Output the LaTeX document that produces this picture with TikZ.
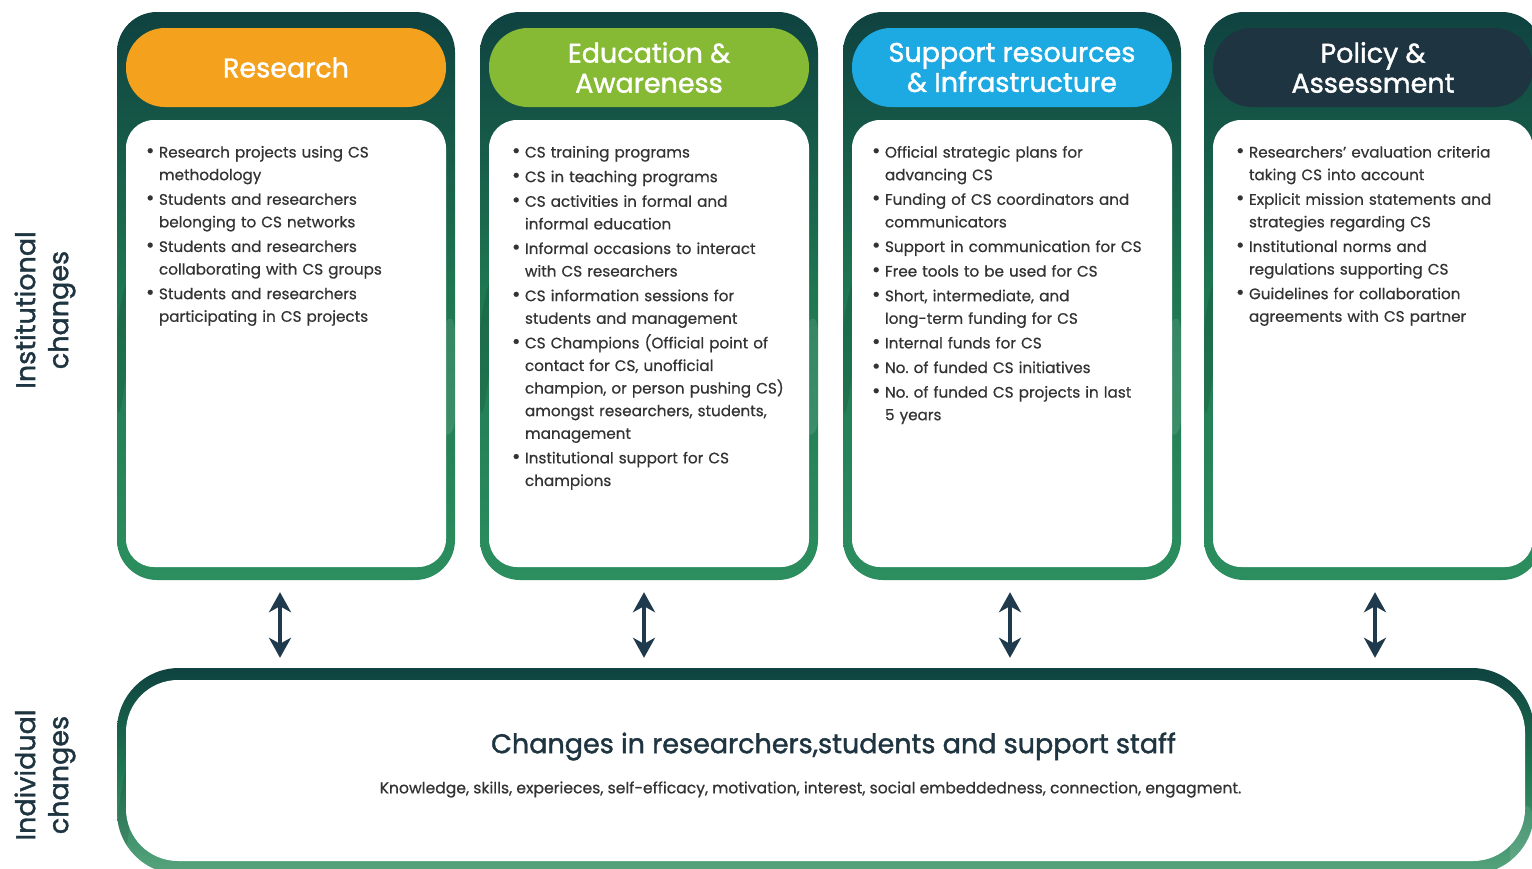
\documentclass[tikz,border=0pt]{standalone}
\usepackage{fontspec}
\setmainfont{Poppins}
\newfontfamily\bodyfont{Poppins}[FakeBold=0.6]
\newfontfamily\headfont{Poppins}[FakeBold=1.4]
\usetikzlibrary{arrows.meta,positioning}
\definecolor{resorange}{HTML}{F4A11D}
\definecolor{edugreen}{HTML}{86B934}
\definecolor{supblue}{HTML}{1DA9E1}
\definecolor{poldark}{HTML}{1E3440}
\definecolor{navy}{HTML}{1F3A4C}
\definecolor{bodytext}{HTML}{333333}
\definecolor{frametop}{HTML}{0F4240}
\definecolor{framemid}{HTML}{1F7752}
\definecolor{framebot}{HTML}{2C8E5E}
\newcommand{\itm}[1]{\hangindent=13pt\hangafter=1\noindent\makebox[13pt][l]{\scalebox{1.35}{\textbullet}}#1\par}

\begin{document}
\begin{tikzpicture}[x=1pt, y=-1pt,
	frame/.style={rounded corners=40pt, minimum width=338pt, minimum height=568pt, inner sep=0pt,
		top color=frametop, bottom color=framebot, middle color=framemid,
		path picture={
			\fill[white, opacity=0.08] (path picture bounding box.north west) -- ++(0,-140) -- ++(120,140) -- cycle;
			\fill[black, opacity=0.14] (path picture bounding box.north east) -- ++(-150,0) -- ++(150,-80) -- cycle;
			\fill[white, opacity=0.10] (path picture bounding box.east) -- ++(0,160) -- ++(-40,-60) -- cycle;
			\fill[black, opacity=0.10] (path picture bounding box.west) -- ++(0,140) -- ++(30,-200) -- cycle;
			\fill[white, opacity=0.08] (path picture bounding box.south east) -- ++(0,200) -- ++(-120,-200) -- cycle;
		}},
	head/.style={rounded corners=39pt, minimum width=320pt, minimum height=79pt, inner sep=0pt,
		text=white, align=center, font=\headfont\fontsize{27}{30}\selectfont},
	inner/.style={fill=white, rounded corners=28pt, minimum width=320pt, minimum height=447pt, inner sep=0pt},
	items/.style={anchor=north west, inner sep=0pt, text=bodytext, text width=300pt,
		font=\bodyfont\fontsize{15.2}{22.6}\selectfont\raggedright\frenchspacing\setlength{\parskip}{2pt}},
	side/.style={rotate=90, align=center, text=poldark, font=\headfont\fontsize{27}{33}\selectfont},
	dblarrow/.style={{Stealth[length=20pt,width=22pt,inset=6pt]}-{Stealth[length=20pt,width=22pt,inset=6pt]},
		line width=4pt, navy, shorten <=12pt, shorten >=10pt}
]
	\useasboundingbox (0,0) rectangle (1532,868);
	\clip (0,0) rectangle (1532,868);

	\node[frame] (research) at (286,296) {};
	\node[frame] (education) at (649,296) {};
	\node[frame] (support) at (1012,296) {};
	\node[frame] (policy) at (1373,296) {};

	\node[head, fill=resorange, below=16pt of research.north] (researchHead) {Research};
	\node[head, fill=edugreen, below=16pt of education.north] (educationHead) {Education \&\\Awareness};
	\node[head, fill=supblue, below=16pt of support.north] (supportHead) {Support resources\\\& Infrastructure};
	\node[head, fill=poldark, below=16pt of policy.north] (policyHead) {Policy \&\\Assessment};

	\node[inner, above=13pt of research.south] (researchBox) {};
	\node[inner, above=13pt of education.south] (educationBox) {};
	\node[inner, above=13pt of support.south] (supportBox) {};
	\node[inner, above=13pt of policy.south] (policyBox) {};

	\node[items, below right=26pt and 20pt of researchBox.north west] (researchList) {%
		\itm{Research projects using CS\newline methodology}
		\itm{Students and researchers\newline belonging to CS networks}
		\itm{Students and researchers\newline collaborating with CS groups}
		\itm{Students and researchers\newline participating in CS projects}};
	\node[items, below right=26pt and 23pt of educationBox.north west] (educationList) {%
		\itm{CS training programs}
		\itm{CS in teaching programs}
		\itm{CS activities in formal and\newline informal education}
		\itm{Informal occasions to interact\newline with CS researchers}
		\itm{CS information sessions for\newline students and management}
		\itm{CS Champions (Official point of\newline contact for CS, unofficial\newline champion, or person pushing CS)\newline amongst researchers, students,\newline management}
		\itm{Institutional support for CS\newline champions}};
	\node[items, below right=26pt and 20pt of supportBox.north west] (supportList) {%
		\itm{Official strategic plans for\newline advancing CS}
		\itm{Funding of CS coordinators and\newline communicators}
		\itm{Support in communication for CS}
		\itm{Free tools to be used for CS}
		\itm{Short, intermediate, and\newline long-term funding for CS}
		\itm{Internal funds for CS}
		\itm{No. of funded CS initiatives}
		\itm{No. of funded CS projects in last\newline 5 years}};
	\node[items, below right=26pt and 23pt of policyBox.north west] (policyList) {%
		\itm{Researchers’ evaluation criteria\newline taking CS into account}
		\itm{Explicit mission statements and\newline strategies regarding CS}
		\itm{Institutional norms and\newline regulations supporting CS}
		\itm{Guidelines for collaboration\newline agreements with CS partner}};

	% individual level
	\node[frame, rounded corners=62pt, minimum width=1417pt, minimum height=206pt, top color=frametop, bottom color=framebot!80!white, middle color=framemid] (individual) at (825.5,771) {};
	\node[fill=white, rounded corners=52pt, minimum width=1399pt, minimum height=181pt, inner sep=0pt] (individualBox) at (825.5,770.5) {};
	\node[text=poldark, font=\headfont\fontsize{27}{30}\selectfont] (individualTitle) at ([xshift=8pt,yshift=24pt]individualBox.center) {Changes in researchers,students and support staff};
	\node[text=bodytext, font=\bodyfont\fontsize{15.6}{18}\selectfont] (individualText) at ([xshift=-15pt,yshift=-19pt]individualBox.center) {Knowledge, skills, experieces, self-efficacy, motivation, interest, social embeddedness, connection, engagment.};

	\node[side] (institutional) at (45,310) {Institutional\\changes};
	\node[side] (individualLabel) at (45,775) {Individual\\changes};

	\draw[dblarrow] ([xshift=-6pt]research.south) -- ([xshift=-6pt]research.south |- individual.north);
	\draw[dblarrow] ([xshift=-5pt]education.south) -- ([xshift=-5pt]education.south |- individual.north);
	\draw[dblarrow] ([xshift=-2pt]support.south) -- ([xshift=-2pt]support.south |- individual.north);
	\draw[dblarrow] ([xshift=2pt]policy.south) -- ([xshift=2pt]policy.south |- individual.north);
\end{tikzpicture}
\end{document}
